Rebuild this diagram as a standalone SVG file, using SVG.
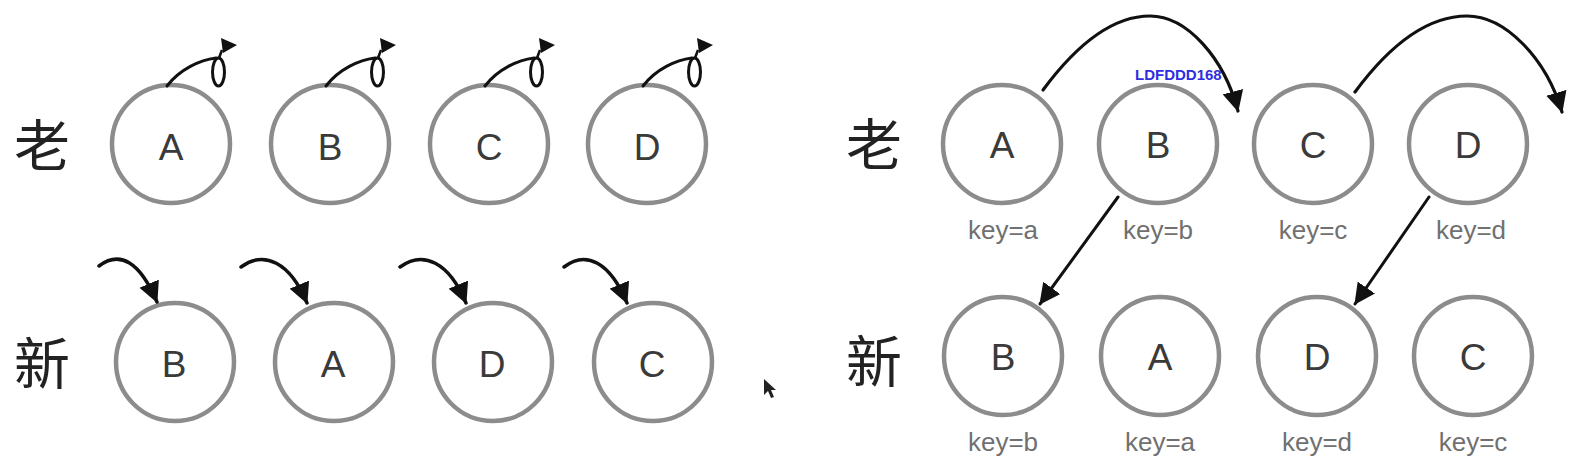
<svg xmlns="http://www.w3.org/2000/svg" xmlns:xlink="http://www.w3.org/1999/xlink" width="1587" height="470" viewBox="0 0 1587 470">
<style>
.nd{fill:#fff;stroke:#8c8c8c;stroke-width:4.5}
.lt{font-family:"Liberation Sans",Arial,sans-serif;font-size:37px;fill:#3a3a3a;text-anchor:middle}
.kl{font-family:"Liberation Sans",Arial,sans-serif;font-size:26px;fill:#707070;text-anchor:middle}
.cj{font-family:"Noto Sans CJK SC","Noto Sans CJK JP",sans-serif;font-size:56px;fill:#222;text-anchor:middle}
.ed{fill:none;stroke:#111;stroke-width:3.5;stroke-linecap:round}
.ar{marker-end:url(#ah)}
.wm{font-family:"Liberation Sans",Arial,sans-serif;font-size:15px;font-weight:bold;fill:#2e2ee0}
</style>
<defs>
<marker id="ah" viewBox="0 0 20 20" refX="19" refY="10" markerWidth="21" markerHeight="21" markerUnits="userSpaceOnUse" orient="auto">
<path d="M0,0 L20,10 L0,20 z" fill="#111"/>
</marker>
<g id="selfloop">
<path class="ed" d="M-4,-58 C9,-75 29,-84 45,-86" style="stroke-width:3"/>
<ellipse cx="47.5" cy="-72" rx="6" ry="14" fill="none" stroke="#111" stroke-width="3"/>
<path d="M48,-86 L51,-94" stroke="#111" stroke-width="2.5" fill="none"/>
<path d="M50,-106 L66,-99 L52,-91 z" fill="#111"/>
</g>
</defs>
<rect width="1587" height="470" fill="#fff"/>

<g id="labels">
<text class="cj" x="42" y="166">老</text>
<text class="cj" x="42" y="384">新</text>
<text class="cj" x="874" y="165">老</text>
<text class="cj" x="874" y="382">新</text>
</g>

<g id="old-left-A"><circle class="nd" cx="171" cy="144" r="59"/><text class="lt" x="171" y="160">A</text></g>
<g id="old-left-B"><circle class="nd" cx="330" cy="144" r="59"/><text class="lt" x="330" y="160">B</text></g>
<g id="old-left-C"><circle class="nd" cx="489" cy="144" r="59"/><text class="lt" x="489" y="160">C</text></g>
<g id="old-left-D"><circle class="nd" cx="647" cy="144" r="59"/><text class="lt" x="647" y="160">D</text></g>

<g id="new-left-B"><circle class="nd" cx="175" cy="362" r="59"/><text class="lt" x="174" y="377">B</text></g>
<g id="new-left-A"><circle class="nd" cx="334" cy="362" r="59"/><text class="lt" x="333" y="377">A</text></g>
<g id="new-left-D"><circle class="nd" cx="493" cy="362" r="59"/><text class="lt" x="492" y="377">D</text></g>
<g id="new-left-C"><circle class="nd" cx="653" cy="362" r="59"/><text class="lt" x="652" y="377">C</text></g>

<g id="old-right-A"><circle class="nd" cx="1002" cy="144" r="59"/><text class="lt" x="1002" y="158">A</text><text class="kl" x="1003" y="239">key=a</text></g>
<g id="old-right-B"><circle class="nd" cx="1158" cy="144" r="59"/><text class="lt" x="1158" y="158">B</text><text class="kl" x="1158" y="239">key=b</text></g>
<g id="old-right-C"><circle class="nd" cx="1313" cy="144" r="59"/><text class="lt" x="1313" y="158">C</text><text class="kl" x="1313" y="239">key=c</text></g>
<g id="old-right-D"><circle class="nd" cx="1468" cy="144" r="59"/><text class="lt" x="1468" y="158">D</text><text class="kl" x="1471" y="239">key=d</text></g>

<g id="new-right-B"><circle class="nd" cx="1003" cy="356" r="59"/><text class="lt" x="1003" y="370">B</text><text class="kl" x="1003" y="451">key=b</text></g>
<g id="new-right-A"><circle class="nd" cx="1160" cy="356" r="59"/><text class="lt" x="1160" y="370">A</text><text class="kl" x="1160" y="451">key=a</text></g>
<g id="new-right-D"><circle class="nd" cx="1317" cy="356" r="59"/><text class="lt" x="1317" y="370">D</text><text class="kl" x="1317" y="451">key=d</text></g>
<g id="new-right-C"><circle class="nd" cx="1473" cy="356" r="59"/><text class="lt" x="1473" y="370">C</text><text class="kl" x="1473" y="451">key=c</text></g>

<g id="connectors">
<use xlink:href="#selfloop" href="#selfloop" transform="translate(171,144)"/>
<use xlink:href="#selfloop" href="#selfloop" transform="translate(330,144)"/>
<use xlink:href="#selfloop" href="#selfloop" transform="translate(489,144)"/>
<use xlink:href="#selfloop" href="#selfloop" transform="translate(647,144)"/>
<path class="ed ar" d="M99,266 C120,250 140,262 157,302"/>
<path class="ed ar" d="M241,267 C264,250 290,262 307,303"/>
<path class="ed ar" d="M400,267 C423,250 449,262 466,303"/>
<path class="ed ar" d="M564,267 C586,250 610,262 627,303"/>
<path class="ed ar" style="stroke-width:3.2" d="M1043,90 C1080,40 1115,16 1150,16 C1187,16 1224,58 1238,111"/>
<path class="ed ar" style="stroke-width:3.2" d="M1355,92 C1392,42 1430,16 1467,16 C1505,16 1546,58 1562,112"/>
<path class="ed ar" style="stroke-width:3" d="M1118,197 L1040,304"/>
<path class="ed ar" style="stroke-width:3" d="M1429,197 L1355,304"/>
</g>

<text class="wm" x="1135" y="80">LDFDDD168</text>
<path d="M764,379 L764,395 L768,391 L771,398 L774,397 L771,390 L776,390 z" fill="#222"/>
</svg>
